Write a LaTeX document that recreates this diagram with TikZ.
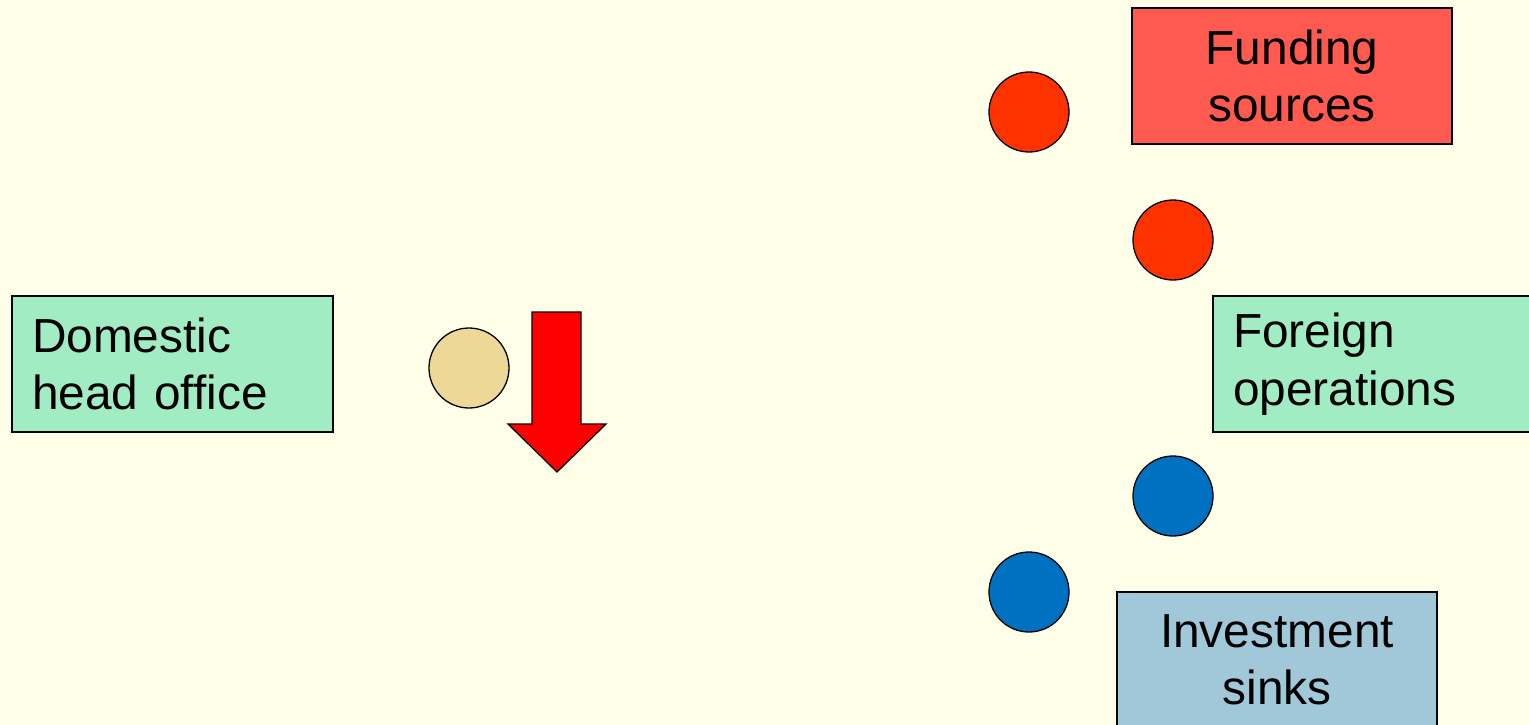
\documentclass[tikz,border=0pt]{standalone}
\usepackage{fontspec}
\setmainfont{Liberation Sans}
\definecolor{bg}{RGB}{255,255,232}
\definecolor{mint}{RGB}{162,236,196}
\definecolor{fundred}{RGB}{255,90,80}
\definecolor{dotred}{RGB}{255,51,0}
\definecolor{dotblue}{RGB}{0,112,192}
\definecolor{beige}{RGB}{237,216,151}
\definecolor{sinkblue}{RGB}{160,200,216}
\begin{document}
\begin{tikzpicture}[x=1pt,y=-1pt,
  box/.style={draw=black, line width=1.3pt, inner sep=0pt, minimum height=136pt,
    font=\fontsize{47.8}{57.5}\selectfont},
  dot/.style={circle, draw=black, line width=1.3pt, minimum size=80pt, inner sep=0pt}]
\useasboundingbox (0,0) rectangle (1529,725);
\clip (0,0) rectangle (1529,725);
\fill[bg] (0,0) rectangle (1529,725);
\node[box, fill=mint, minimum width=321pt, text width=281pt, align=left] (dom) at (172.5,364) {Domestic\\head office};
\node[dot, fill=beige] (home) at (469,368) {};
\filldraw[fill=red, draw=black, line width=1.3pt] (532,312) -- (581,312) -- (581,424) -- (606,424) -- (557,472) -- (508,424) -- (532,424) -- cycle;
\node[box, fill=fundred, minimum width=320pt, text width=300pt, align=center] (fund) at (1292,76) {Funding\\sources};
\node[dot, fill=dotred] (r1) at (1029,112) {};
\node[dot, fill=dotred] (r2) at (1173,240) {};
\node[box, fill=mint, minimum width=332pt, text width=292pt, align=left] (for) at (1379,364) {Foreign\\operations};
\node[dot, fill=dotblue] (b1) at (1173,496) {};
\node[dot, fill=dotblue] (b2) at (1029,592) {};
\node[box, fill=sinkblue, minimum width=320pt, text width=300pt, align=center] (inv) at (1277,660) {Investment\\sinks};
\end{tikzpicture}
\end{document}
